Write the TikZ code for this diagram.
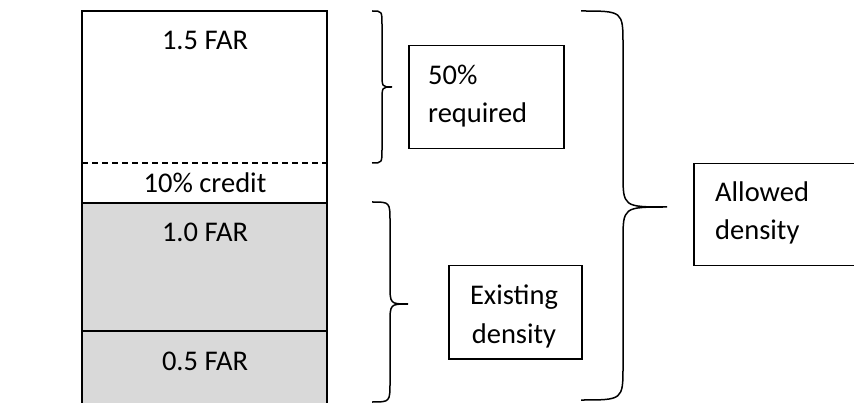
\documentclass[tikz,border=0pt]{standalone}
\usepackage{fontspec}
\setmainfont{Carlito}
\definecolor{bargray}{HTML}{D9D9D9}
\tikzset{
  txt/.style={font=\fontsize{28.5}{36}\selectfont, inner sep=0pt, anchor=base},
  txtl/.style={txt, anchor=base west},
  lbox/.style={draw=black, line width=1.5pt, inner sep=0pt, anchor=north west},
  brc/.style={draw=black, line width=1.5pt},
}
\newcommand{\wordbrace}[7]{% x0, xm, xt, ytop, ytip, ybot, r
  \draw[brc] (#1,#4) .. controls (#2,#4) .. (#2,#4+#7) -- (#2,#5-#7)
    .. controls (#2,#5) .. (#3,#5) .. controls (#2,#5) .. (#2,#5+#7)
    -- (#2,#6-#7) .. controls (#2,#6) .. (#1,#6);
}
\begin{document}
\begin{tikzpicture}[x=1pt,y=-1pt]
\useasboundingbox (0,0) rectangle (854,403);
\clip (0,0) rectangle (854,403);
\fill[white] (0,0) rectangle (854,403);
% stacked column
\fill[bargray] (82,203) rectangle (327,406);
\draw[line width=1.5pt] (82,406) -- (82,11) -- (327,11) -- (327,406);
\draw[line width=1.5pt, dash pattern=on 6pt off 4pt] (82,163) -- (327,163);
\draw[line width=1.5pt] (82,203) -- (327,203);
\draw[line width=1.5pt] (82,331) -- (327,331);
\node[txt] (far15) at (205,50) {1.5 FAR};
\node[txt] (credit) at (205,193) {10\% credit};
\node[txt] (far10) at (205,242) {1.0 FAR};
\node[txt] (far05) at (205,370) {0.5 FAR};
% braces
\wordbrace{372}{382}{392}{11}{87}{163}{14}
\wordbrace{372}{390}{408}{202}{304}{402}{20}
\wordbrace{581}{623}{667}{11}{207}{400}{34}
% boxes
\node[lbox, minimum width=155pt, minimum height=103pt] (req) at (408,45) {};
\node[txtl] (req1) at (428,85) {50\%};
\node[txtl] (req2) at (428,123) {required};
\node[lbox, minimum width=133pt, minimum height=93pt] (exist) at (448,265) {};
\node[txt] (ex1) at (514,305) {Existing};
\node[txt] (ex2) at (514,343) {density};
\node[lbox, minimum width=165pt, minimum height=102pt] (allow) at (693,163) {};
\node[txtl] (al1) at (715,202) {Allowed};
\node[txtl] (al2) at (715,240) {density};
\end{tikzpicture}
\end{document}
